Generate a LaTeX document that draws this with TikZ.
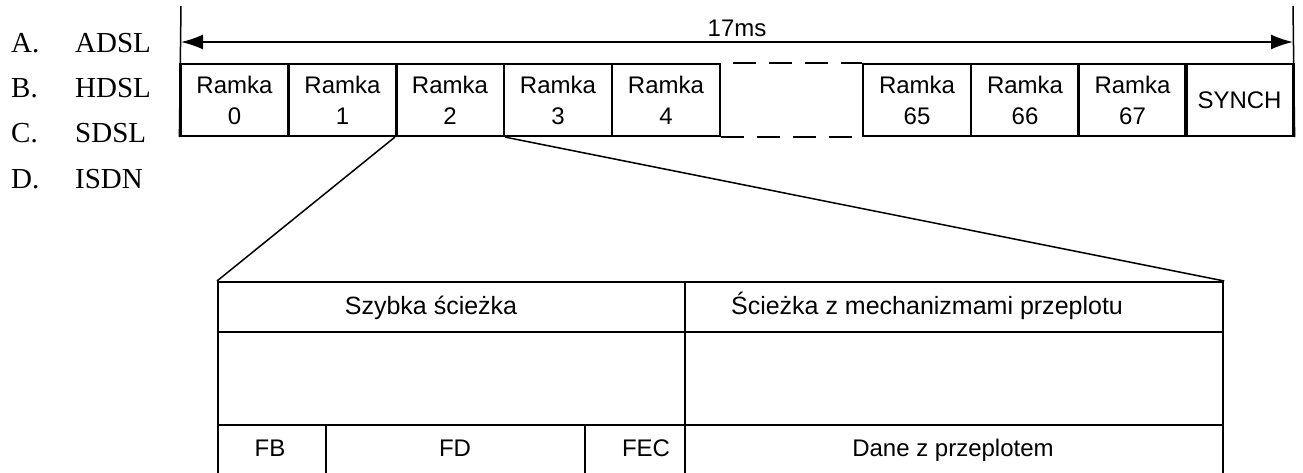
\documentclass[tikz,border=0pt]{standalone}
\usepackage{fontspec}
\setmainfont{Liberation Sans}
\newfontfamily\timesf{Liberation Serif}
\usetikzlibrary{arrows.meta}
\begin{document}
\begin{tikzpicture}[x=1pt,y=-1pt,
  frm/.style={draw,line width=2.2pt,minimum width=108pt,minimum height=72pt,inner sep=0pt,align=center,font=\fontsize{24}{31}\selectfont},
  cell/.style={draw,line width=2.2pt,inner sep=0pt,anchor=north west,minimum height=#1},
  lbl/.style={font=\fontsize{25}{30}\selectfont,anchor=base,inner sep=0pt},
  lbls/.style={font=\fontsize{24}{30}\selectfont,anchor=base,inner sep=0pt},
  opt/.style={font=\timesf\fontsize{29}{34}\selectfont,anchor=base west,inner sep=0pt},
  thinl/.style={line width=1.5pt},
  dashl/.style={line width=2.2pt,dash pattern=on 23pt off 13pt}]
\useasboundingbox (0,0) rectangle (1303,472);
\clip (0,0) rectangle (1303,472);
% options on the left
\node[opt] (oa) at (11,52) {A.};   \node[opt] (oat) at (75,52) {ADSL};
\node[opt] (ob) at (11,97) {B.};   \node[opt] (obt) at (75,97) {HDSL};
\node[opt] (oc) at (11,142) {C.};  \node[opt] (oct) at (75,142) {SDSL};
\node[opt] (od) at (11,188) {D.};  \node[opt] (odt) at (75,188) {ISDN};
% frames
\node[frm] (r0) at (234.5,100) {Ramka\\0};
\node[frm] (r1) at (342.5,100) {Ramka\\1};
\node[frm] (r2) at (450,100) {Ramka\\2};
\node[frm] (r3) at (558,100) {Ramka\\3};
\node[frm] (r4) at (666,100) {Ramka\\4};
\node[frm] (r65) at (917,100) {Ramka\\65};
\node[frm] (r66) at (1025,100) {Ramka\\66};
\node[frm] (r67) at (1132.5,100) {Ramka\\67};
\node[frm] (sy) at (1239.5,100) {SYNCH};
% dashed gap
\draw[dashl,dash phase=24pt] (r4.north east) -- (r65.north west);
\draw[dashl] (r4.south east) -- (r65.south west);
% 17 ms span
\coordinate (topL) at (181,6);
\coordinate (topR) at (1293,6);
\coordinate (aL) at (181,42);
\coordinate (aR) at (1293,42);
\draw[thinl] (topL) -- (r0.south west);
\draw[thinl] (topR) -- (sy.south east);
\draw[line width=1.8pt,{Latex[length=22pt,width=15pt]}-{Latex[length=22pt,width=15pt]}] (aL) -- (aR);
\node[lbls] (ms) at (737,36) {17ms};
% table
\node[cell=50pt,minimum width=467pt] (fast) at (217,281) {};
\node[cell=50pt,minimum width=538pt] (inter) at (684,281) {};
\node[cell=93pt,minimum width=467pt] (fastm) at (217,331) {};
\node[cell=93pt,minimum width=538pt] (interm) at (684,331) {};
\node[cell=60pt,minimum width=108pt] (fb) at (217,424) {};
\node[cell=60pt,minimum width=259pt] (fd) at (325,424) {};
\node[cell=60pt,minimum width=100pt] (fec) at (584,424) {};
\node[cell=60pt,minimum width=538pt] (dane) at (684,424) {};
\node[lbl] (t1) at (431,314) {Szybka ścieżka};
\node[lbl] (t2) at (927,314) {Ścieżka z mechanizmami przeplotu};
\node[lbls] (t3) at (270,456) {FB};
\node[lbls] (t4) at (455,456) {FD};
\node[lbls] (t5) at (646,456) {FEC};
\node[lbls] (t6) at (953,456) {Dane z przeplotem};
% zoom lines
\draw[thinl] (r2.south west) -- (fast.north west);
\draw[thinl] (r2.south east) -- (inter.north east);
\end{tikzpicture}
\end{document}
